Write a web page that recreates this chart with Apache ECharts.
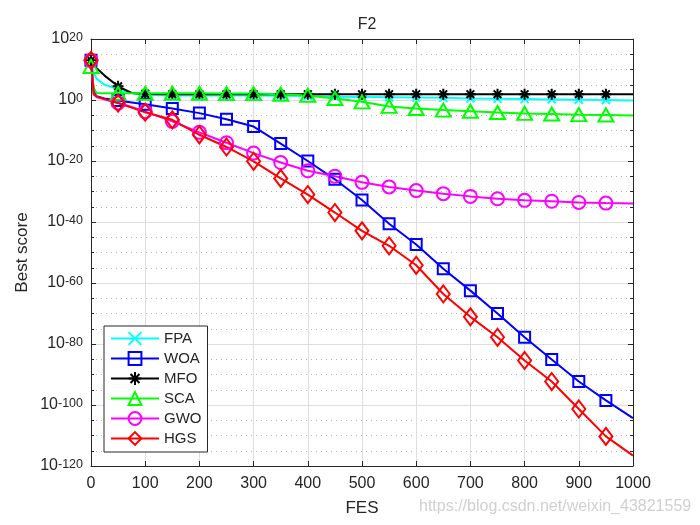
<!DOCTYPE html>
<html>
<head>
<meta charset="utf-8">
<script src="https://cdn.jsdelivr.net/npm/echarts@6/dist/echarts.min.js"></script>
<style>
  html, body { margin: 0; padding: 0; background: #fff; }
  #chart { width: 700px; height: 525px; }
</style>
</head>
<body>
<div id="chart"></div>
<script>
// FES sample points (x)
var fes = [0, 5, 10, 25, 50, 75, 100, 150, 200, 250, 300, 350, 400, 450, 500,
           550, 600, 650, 700, 750, 800, 850, 900, 950, 1000];

// best score, stored as log10 (exponent)
var fpaLog = [13, 9, 7, 5, 3.5, 2.3, 1.6, 1.5, 1.5, 1.5, 1.5, 1.4, 1.3, 1.1, 1.0,
              0.9, 0.8, 0.7, 0.5, 0.4, 0.3, 0.2, 0.1, 0.0, -0.2];
var woaLog = [13, 3, 1.2, 0.5, -0.2, -0.8, -1.4, -2.8, -4.3, -6.3, -8.7, -14.3, -20.0, -26.0, -32.8,
              -40.6, -47.4, -55.3, -62.5, -70.0, -77.8, -85.1, -92.3, -98.5, -104.3];
var mfoLog = [13, 11.5, 10.5, 8, 4.5, 2.3, 2.0, 1.9, 1.9, 1.9, 1.9, 1.9, 1.9, 1.9, 1.9,
              1.9, 1.9, 1.9, 1.9, 1.9, 1.9, 1.9, 1.9, 1.9, 1.9];
var scaLog = [11, 4, 2.3, 2.2, 2.2, 2.2, 2.2, 2.2, 2.2, 2.1, 2.1, 1.9, 1.5, 0.5, -0.6,
              -2.1, -2.8, -3.3, -3.7, -4.1, -4.4, -4.6, -4.8, -4.9, -5.1];
var gwoLog = [13, 2, 1.0, 0.2, -1.0, -2.3, -3.8, -7.0, -10.6, -14.0, -17.4, -20.5, -23.2, -25.0, -27.0,
              -28.5, -29.7, -30.7, -31.6, -32.4, -32.9, -33.2, -33.6, -33.8, -33.9];
var hgsLog = [13, 1.8, 1.2, 0.3, -1.0, -2.5, -4.0, -6.5, -11.4, -15.4, -20.1, -25.7, -31.0, -36.9, -42.9,
              -47.8, -54.2, -63.6, -71.1, -77.8, -85.4, -92.3, -101.3, -110.3, -116.6];

var yTicks = [-120, -100, -80, -60, -40, -20, 0, 20];

var asterisk = 'path://M0,-1L0,1M-1,0L1,0M-0.7,-0.7L0.7,0.7M-0.7,0.7L0.7,-0.7';
var cross = 'path://M-1,-1L1,1M-1,1L1,-1';

var FONT = 'Liberation Sans, Arial, Helvetica, sans-serif';
var INK = '#262626';

function pairs(arr) {
  return fes.map(function (x, i) { return [x, arr[i]]; });
}

function mkSeries(name, arr, color, symbol, size) {
  return {
    name: name,
    type: 'line',
    data: pairs(arr),
    symbol: symbol,
    symbolSize: function (v) {
      return (v[0] % 50 === 0 && v[0] < 1000) ? size : 0;
    },
    showSymbol: true,
    showAllSymbol: true,
    lineStyle: { color: color, width: 2 },
    itemStyle: { color: 'transparent', borderColor: color, borderWidth: 2 },
    emphasis: { disabled: true }
  };
}

var myChart = echarts.init(document.getElementById('chart'));

var option = {
  animation: false,
  backgroundColor: '#fff',
  title: {
    text: 'F2',
    left: 362,
    top: 12,
    textAlign: 'center',
    textStyle: { fontFamily: FONT, fontSize: 16, fontWeight: 'normal', color: INK }
  },
  legend: {
    orient: 'vertical',
    left: 104,
    top: 326,
    padding: [5, 6, 6, 6],
    itemWidth: 48,
    itemHeight: 16,
    itemGap: 5,
    borderColor: INK,
    borderWidth: 1,
    backgroundColor: '#fff',
    selectedMode: false,
    textStyle: { fontFamily: FONT, fontSize: 15, color: INK },
    data: ['FPA', 'WOA', 'MFO', 'SCA', 'GWO', 'HGS']
  },
  grid: { left: 91, right: 67, top: 39, bottom: 59 },
  xAxis: [{
    type: 'value',
    min: 0, max: 1000, interval: 100,
    name: 'FES',
    nameLocation: 'middle',
    nameGap: 34,
    nameTextStyle: { fontFamily: FONT, fontSize: 17, color: INK },
    axisLine: { onZero: false, lineStyle: { color: INK, width: 1 } },
    axisTick: { inside: true, length: 5, lineStyle: { color: INK } },
    axisLabel: {
      fontFamily: FONT, fontSize: 16, color: INK, margin: 10,
      formatter: function (v) { return String(v); }
    },
    splitLine: { show: true, lineStyle: { color: '#dedede', width: 1 } }
  }, {
    type: 'value',
    position: 'top',
    min: 0, max: 1000, interval: 100,
    axisLine: { onZero: false, lineStyle: { color: INK, width: 1 } },
    axisTick: { inside: true, length: 5, lineStyle: { color: INK } },
    axisLabel: { show: false },
    splitLine: { show: false }
  }],
  yAxis: [{
    type: 'value',
    min: yTicks[0], max: yTicks[yTicks.length - 1], interval: 20,
    name: 'Best score',
    nameLocation: 'middle',
    nameGap: 60,
    nameMoveOverlap: false,
    nameTextStyle: { fontFamily: FONT, fontSize: 17, color: INK },
    axisLine: { show: true, onZero: false, lineStyle: { color: INK, width: 1 } },
    axisTick: { show: true, inside: true, length: 5, lineStyle: { color: INK } },
    minorTick: { show: true, splitNumber: 4, length: 3, lineStyle: { color: INK } },
    axisLabel: {
      margin: 8,
      formatter: function (v) { return '{b|10}{s|' + v + '}'; },
      rich: {
        b: { fontFamily: FONT, fontSize: 16, color: INK, lineHeight: 16, padding: [5, 0, 0, 0], verticalAlign: 'bottom' },
        s: { fontFamily: FONT, fontSize: 12.5, color: INK, lineHeight: 12, verticalAlign: 'top' }
      }
    },
    splitLine: { show: true, lineStyle: { color: '#dedede', width: 1 } },
    minorSplitLine: { show: true, lineStyle: { color: '#b4b4b4', width: 1, type: [1, 4] } }
  }, {
    type: 'value',
    position: 'right',
    min: yTicks[0], max: yTicks[yTicks.length - 1], interval: 20,
    axisLine: { show: true, onZero: false, lineStyle: { color: INK, width: 1 } },
    axisTick: { show: true, inside: true, length: 5, lineStyle: { color: INK } },
    minorTick: { show: true, splitNumber: 4, length: 3, lineStyle: { color: INK } },
    axisLabel: { show: false },
    splitLine: { show: false }
  }],
  graphic: [{
    type: 'text',
    left: 419,
    top: 499,
    style: {
      text: 'https://blog.csdn.net/weixin_43821559',
      font: '16px ' + FONT,
      fill: '#d0d0d0'
    },
    z: 100
  }],
  series: [
    mkSeries('FPA', fpaLog, '#00ffff', cross, 8),
    mkSeries('WOA', woaLog, '#0000ff', 'rect', 11),
    mkSeries('MFO', mfoLog, '#000000', asterisk, 11),
    mkSeries('SCA', scaLog, '#00ff00', 'triangle', [15, 13]),
    mkSeries('GWO', gwoLog, '#ff00ff', 'circle', 13),
    mkSeries('HGS', hgsLog, '#ff0000', 'diamond', [13, 17])
  ]
};

myChart.setOption(option);
</script>
</body>
</html>
